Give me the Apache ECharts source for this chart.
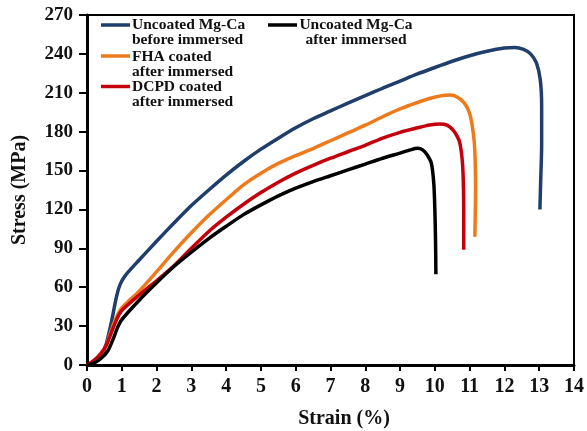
<!DOCTYPE html>
<html><head><meta charset="utf-8">
<script src="https://cdn.jsdelivr.net/npm/echarts@6/dist/echarts.min.js"></script>
<style>html,body{margin:0;padding:0;background:#fff}#c{width:587px;height:431px}</style>
</head><body><div id="c"></div>
<script>
const seriesNames = ['Uncoated Mg-Ca\nbefore immersed','FHA coated\nafter immersed','DCPD coated\nafter immersed','Uncoated Mg-Ca\nafter immersed'];
const seriesColors = ['#1f3e6b','#ee7a1c','#c3000b','#000000'];
const xTicks = [0,1,2,3,4,5,6,7,8,9,10,11,12,13,14];
const yTicks = [0,30,60,90,120,150,180,210,240,270];

const uncoatedBefore = [[0,0],[0.2,2],[0.4,7],[0.55,16],[0.7,33],[0.85,53],[0.95,62],[1.1,69],[1.5,81],[2.0,95.5],[2.5,109.5],[3.0,123],[3.5,135],[4.0,146.5],[4.5,157],[5.0,166.5],[5.5,175],[6.0,183],[6.5,190],[7.0,196],[7.5,202],[8.0,207.8],[8.5,213.5],[9.0,219],[9.5,224.5],[10.0,229.5],[10.5,234.3],[11.0,238.6],[11.5,242],[12.0,244.5],[12.3,245],[12.55,243.5],[12.75,240],[12.92,233],[13.03,220],[13.07,200],[13.07,170],[13.04,140],[13.02,120]];
const fhaCoated = [[0,0],[0.2,3],[0.4,8],[0.55,15],[0.7,27],[0.85,37],[1.0,44],[1.5,57],[2.0,72],[2.5,87.5],[3.0,102],[3.5,115.5],[4.0,127.5],[4.5,139],[5.0,148],[5.5,155.5],[6.0,161.5],[6.5,167],[7.0,173],[7.5,179],[8.0,185],[8.5,191.5],[9.0,197.5],[9.5,202.5],[9.9,206],[10.2,207.8],[10.45,208.2],[10.65,206.5],[10.85,202],[11.0,194],[11.1,180],[11.15,165],[11.17,135],[11.15,99]];
const dcpdCoated = [[0,0],[0.2,3.5],[0.4,9],[0.55,15],[0.7,25],[0.85,35],[1.0,42],[1.5,54],[2.0,65],[2.5,76.5],[3.0,90],[3.5,103],[4.0,114],[4.5,124],[5.0,133],[5.5,141],[6.0,148],[6.5,154],[7.0,159.5],[7.5,164.5],[8.0,169.5],[8.5,175],[9.0,179.5],[9.5,183],[9.85,185.2],[10.14,186],[10.35,185],[10.53,181],[10.65,176],[10.72,171],[10.78,160],[10.81,148],[10.83,120],[10.83,89]];
const uncoatedAfter = [[0,0],[0.2,1.5],[0.4,5],[0.6,11],[0.75,20],[0.88,29],[1.0,35],[1.5,50],[2.0,63.5],[2.5,76],[3.0,87],[3.5,97.5],[4.0,107],[4.5,116],[5.0,123.5],[5.5,130.5],[6.0,136.5],[6.5,141.5],[7.0,146],[7.5,150.5],[8.0,155],[8.5,159.5],[9.0,163.5],[9.3,166],[9.5,167.2],[9.65,166],[9.78,162],[9.9,155.6],[9.97,140],[10.0,120],[10.02,95],[10.03,70]];
const allData = [uncoatedBefore, fhaCoated, dcpdCoated, uncoatedAfter];

const chart = echarts.init(document.getElementById('c'), null, {renderer:'canvas'});
const FONT = '"Liberation Serif","Times New Roman",serif';

const legendPos = [
  {lx:101, ly:25, tx:132, ty:17.5, align:'left'},
  {lx:101, ly:56, tx:132, ty:49, align:'left'},
  {lx:101, ly:86.5, tx:132, ty:79.5, align:'left'},
  {lx:268, ly:25, tx:356, ty:17.5, align:'center'}
];
const graphics = [];
seriesNames.forEach((n,i)=>{
  const p = legendPos[i];
  graphics.push({type:'line', shape:{x1:p.lx, y1:p.ly, x2:p.lx+29, y2:p.ly}, style:{stroke:seriesColors[i], lineWidth:3.5}, z:100});
  graphics.push({type:'text', x:p.tx, y:p.ty, style:{text:n, fill:'#111', font:'bold 15.5px '+FONT, textAlign:p.align, textVerticalAlign:'top', lineHeight:15}, z:100});
});
graphics.push({type:'text', x:344, y:419, style:{text:'Strain (%)', fill:'#111', font:'bold 20px '+FONT, textAlign:'center', textVerticalAlign:'middle'}});
graphics.push({type:'text', x:20, y:190, rotation:Math.PI/2, style:{text:'Stress (MPa)', fill:'#111', font:'bold 20px '+FONT, textAlign:'center', textVerticalAlign:'middle'}});

chart.setOption({
  animation:false,
  backgroundColor:'#fff',
  grid:{left:87, right:13, top:15, bottom:66, show:true, borderColor:'#000', borderWidth:2},
  xAxis:{type:'value', min:xTicks[0], max:xTicks[xTicks.length-1], interval:1,
    axisLine:{show:true, onZero:false, lineStyle:{color:'#000', width:3}},
    axisTick:{show:true, inside:false, length:6, lineStyle:{color:'#000', width:2}},
    axisLabel:{color:'#111', fontFamily:FONT, fontWeight:'bold', fontSize:20, margin:12},
    splitLine:{show:false}},
  yAxis:{type:'value', min:yTicks[0], max:yTicks[yTicks.length-1], interval:30,
    axisLine:{show:true, onZero:false, lineStyle:{color:'#000', width:3}},
    axisTick:{show:true, inside:false, length:8, lineStyle:{color:'#000', width:2}},
    axisLabel:{color:'#111', fontFamily:FONT, fontWeight:'bold', fontSize:19, margin:14},
    splitLine:{show:false}},
  series: allData.map((d,i)=>({
    type:'line', name:seriesNames[i], data:d, showSymbol:false, symbol:'none', smooth:0.25,
    lineStyle:{color:seriesColors[i], width:3.5}, z:2+i
  })),
  graphic: graphics
});
</script></body></html>
